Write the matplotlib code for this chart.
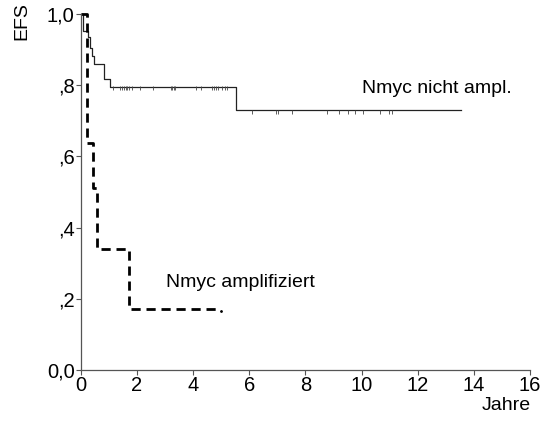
import matplotlib
matplotlib.use("Agg")
import matplotlib.pyplot as plt

plt.rcParams["font.family"] = ["Liberation Sans", "DejaVu Sans"]

# Kaplan-Meier EFS
nicht_t = [0, 0.06, 0.25, 0.33, 0.39, 0.46, 0.82, 1.02, 5.52, 13.54]
nicht_s = [1.0, 0.952, 0.935, 0.904, 0.882, 0.86, 0.818, 0.795, 0.73, 0.73]
nicht_cens_t = [1.15, 1.41, 1.47, 1.53, 1.59, 1.65, 1.72, 1.81, 2.11, 2.58,
                3.21, 3.25, 3.33, 3.37, 4.09, 4.28, 4.68, 4.75, 4.83, 4.89,
                5.02, 5.12, 5.21,
                6.11, 6.95, 7.01, 7.51, 8.76, 9.21, 9.53, 9.76, 10.04, 10.66,
                10.99, 11.07]

ampl_t = [0, 0.2, 0.44, 0.59, 1.71, 4.95]
ampl_s = [1.0, 0.637, 0.51, 0.34, 0.17, 0.17]

yticks = [0.0, 0.2, 0.4, 0.6, 0.8, 1.0]
ytick_labels = ["0,0", ",2", ",4", ",6", ",8", "1,0"]
xticks = [0, 2, 4, 6, 8, 10, 12, 14, 16]


def surv_at(times, surv, t):
    val = surv[0]
    for ti, si in zip(times, surv):
        if ti <= t:
            val = si
    return val


fig = plt.figure(figsize=(5.43, 4.41), dpi=100)
ax = fig.add_axes([0.149, 0.161, 0.827, 0.807])

ax.step(nicht_t, nicht_s, where="post", color="#222222", lw=0.9, clip_on=False)
cens_y = [surv_at(nicht_t, nicht_s, t) for t in nicht_cens_t]
ax.plot(nicht_cens_t, [y - 0.004 for y in cens_y], ls="none", marker="|",
        ms=2.5, mew=0.6, color="#444444", clip_on=False)

ax.step(ampl_t, ampl_s, where="post", color="black", lw=2.0,
        dashes=(3.3, 2.1), clip_on=False)
ax.plot([ampl_t[-1] + 0.05], [ampl_s[-1] - 0.005], ls="none", marker=".",
        ms=2, color="black")

ax.text(10.0, 0.79, "Nmyc nicht ampl.", fontsize=14, va="center", ha="left")
ax.text(3.03, 0.247, "Nmyc amplifiziert", fontsize=14, va="center", ha="left")

ax.set_xlim(0, 16)
ax.set_ylim(0, 1.0)
ax.set_xticks(xticks)
ax.set_yticks(yticks)
ax.set_yticklabels(ytick_labels)
ax.tick_params(labelsize=14.5, length=3.5, width=0.8, color="#555555", pad=1)
for side in ("top", "right"):
    ax.spines[side].set_visible(False)
for side in ("left", "bottom"):
    ax.spines[side].set_color("#555555")
    ax.spines[side].set_linewidth(0.9)

fig.text(0.04, 0.952, "EFS", rotation=90, fontsize=14, ha="center", va="center")
fig.text(0.977, 0.08, "Jahre", fontsize=14, ha="right", va="center")

fig.savefig("out.png", dpi=100)
